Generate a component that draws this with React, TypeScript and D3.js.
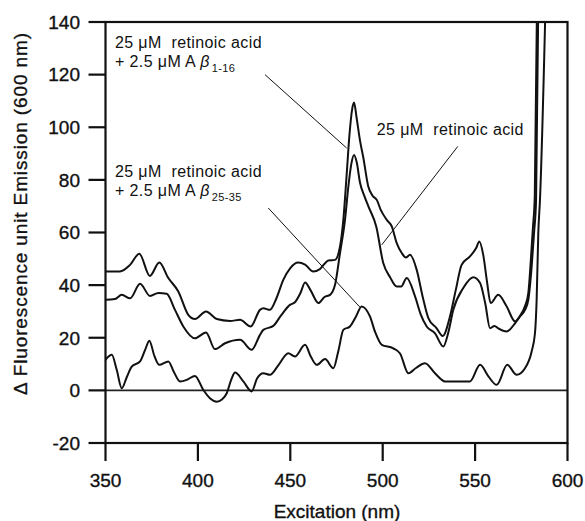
import React from 'react'
import * as d3 from 'd3'

// excitation (nm) vs delta fluorescence
const xTicks = [350, 400, 450, 500, 550, 600]
const yTicks = [-20, 0, 20, 40, 60, 80, 100, 120, 140]

const withAb116: [number, number][] = [
  [350, 45.2], [357.8, 45.2], [363.3, 47.7], [368.3, 51.9], [374, 43.5], [379.1, 48.6], [384, 42.7],
  [389.4, 37.6], [394.8, 28.7], [398.4, 27.1], [404.4, 30], [410.2, 27.1], [417.4, 26.4], [422.8, 26.8],
  [428.6, 24.3], [433.6, 30.6], [435.4, 31.2], [439, 30.6], [442.5, 35], [446.2, 42], [450, 46.5],
  [454.3, 48.6], [458, 47.8], [462.4, 45.2], [466, 46.1], [470.6, 49.4], [474.2, 49.6], [476.9, 54.7],
  [478.7, 64.8], [480.5, 82], [482, 97], [483.5, 107], [484.5, 109.4], [485.8, 104], [487.7, 95],
  [489.5, 88.5], [492.2, 77.5], [494.5, 74], [496.8, 72.4], [499, 68.5], [502.2, 64.8], [504.9, 62.3],
  [507.6, 56], [510.3, 52.2], [512.5, 50.5], [514.8, 51.5], [518.4, 45.8], [521.5, 36], [524.7, 27.5],
  [529.2, 23.6], [532.5, 20.7], [536.4, 28.1], [539.5, 38], [542.7, 47.7], [547.2, 50.9], [550.5, 54],
  [552.3, 56.6], [554.4, 51.5], [556.5, 41], [558.4, 33.2], [562.5, 36.3], [567.1, 31.9], [571.6, 26.2],
  [574.3, 28.1], [577, 30.6], [578.8, 34.4], [580.6, 47], [581.9, 59.8], [583, 72.4], [584.5, 165]
]

const retinoicOnly: [number, number][] = [
  [350, 34.4], [355.1, 34.7], [358.8, 36.3], [363.3, 35], [368.7, 40.5], [374.1, 35.9], [378.6, 37],
  [383.1, 36.7], [387.6, 30.6], [392.1, 24.3], [398.4, 19.8], [404.4, 22], [409.2, 15.7], [414.7, 17.9],
  [422.8, 19.2], [429.1, 15.4], [433.6, 21.1], [435.4, 23], [440.8, 24.5], [445, 28.5], [449.8, 32.5],
  [452.5, 33.5], [455.5, 37], [458, 41], [461, 38], [465.2, 33.2], [468.5, 35.5], [471.5, 36.3],
  [474.2, 40.1], [476.9, 52.2], [479.6, 64.8], [481.5, 78], [483, 86], [484.5, 89.5], [486, 86.5],
  [487.7, 79], [490, 74], [492.2, 70], [496.5, 62.3], [500.3, 48.4], [504, 43], [507.6, 39.5],
  [510, 39.5], [513, 42.7], [517.5, 35.7], [520.5, 29], [523.8, 24.3], [528.3, 21.7], [532.8, 16.7],
  [535.5, 22], [538.2, 30.6], [543.6, 38.9], [549, 43], [552.7, 40.8], [555.5, 33], [558.1, 23.6],
  [560.5, 24.5], [562.5, 23.6], [567.1, 22.4], [571.6, 25.5], [574.3, 28.3], [577, 32], [578.8, 37],
  [580.2, 50], [581.3, 62], [582.3, 74], [583.8, 165]
]

const withAb2535: [number, number][] = [
  [350, 11.6], [353.4, 13.5], [356, 8], [358.8, 0.8], [361.5, 5], [364.2, 9], [368.7, 11], [371.5, 15.5],
  [373.7, 18.9], [376.5, 13], [379.1, 9.7], [384, 11], [387, 7], [390.3, 3.4], [394, 4], [398.4, 5.5],
  [402.9, 0.2], [406.5, -3], [410.2, -4.3], [413, -3.5], [415.6, -1.1], [418, 4], [420.1, 6.8],
  [424.6, 3.4], [429.1, -0.4], [432, 4.5], [435.4, 6.5], [439, 5.9], [443.5, 9.5], [448.9, 14.1],
  [452.5, 12.9], [458, 17.3], [461, 13], [464.3, 9.7], [468.8, 11.9], [473.3, 8.4], [476, 15],
  [478.7, 23], [482.3, 24.3], [485.5, 28], [488.6, 31.9], [493.1, 28.1], [496, 22], [499.5, 17.3],
  [505.7, 16], [509.4, 14], [513.9, 6.5], [518, 8.5], [522.9, 10.3], [528.3, 6.5], [533.7, 3.4],
  [540.9, 3.4], [547.2, 3.4], [552.7, 9.7], [557.2, 5.3], [561.7, 2.1], [567.4, 9.7], [572.5, 5.9],
  [577, 8.4], [580.6, 14.8], [582.4, 21.7], [583.3, 34.4], [584.2, 59.8], [585.1, 72.4], [588.5, 158]
]

const seriesList = [withAb116, retinoicOnly, withAb2535]

// leader lines, in data units: [x1, y1, x2, y2]
const leaders = [
  [436.3, 120, 480.5, 92.1],
  [540.6, 92.7, 499.5, 55.3],
  [438.1, 69.3, 487.7, 31.6]
]

const font = '"Liberation Sans", Arial, sans-serif'

export default function App () {
  const width = 585
  const height = 521
  const left = 105.5
  const right = 567.5
  const top = 22
  const bottom = 443

  const x = d3.scaleLinear().domain([350, 600]).range([left, right])
  const y = d3.scaleLinear().domain([-20, 140]).range([bottom, top])
  const line = d3.line<[number, number]>()
    .x(d => x(d[0]))
    .y(d => y(d[1]))
    .curve(d3.curveMonotoneX)

  const label = (lx: number, ly: number, sub: string | null) => (
    <g fontFamily={font} fontSize={16} fill='#111' letterSpacing={0.4}>
      <text x={x(lx)} y={y(ly)}>{'25 μM\u00a0 retinoic acid'}</text>
      {sub !== null && (
        <text x={x(lx)} y={y(ly) + 19}>
          {'+ 2.5 μM A '}<tspan fontStyle='italic'>β</tspan>
          <tspan fontSize={11} dy={5} dx={2}>{sub}</tspan>
        </text>
      )}
    </g>
  )

  return (
    <svg width={width} height={height} style={{ position: 'absolute', left: 0, top: 0, background: '#fff' }}>
      <defs>
        <clipPath id='plot'>
          <rect x={left} y={top} width={right - left} height={bottom - top} />
        </clipPath>
      </defs>

      <line x1={left} x2={right} y1={y(0)} y2={y(0)} stroke='#222' strokeWidth={1.6} />

      <g clipPath='url(#plot)' fill='none' stroke='#111' strokeWidth={2} strokeLinejoin='round'>
        {seriesList.map((s, i) => <path key={i} d={line(s) || ''} />)}
      </g>

      <g stroke='#111' strokeWidth={1}>
        {leaders.map((l, i) => (
          <line key={i} x1={x(l[0])} y1={y(l[1])} x2={x(l[2])} y2={y(l[3])} />
        ))}
      </g>

      <rect x={left} y={top} width={right - left} height={bottom - top} fill='none' stroke='#111' strokeWidth={2.2} />

      <g stroke='#111' strokeWidth={2.2}>
        {yTicks.map(t => <line key={t} x1={left - 17} x2={left} y1={y(t)} y2={y(t)} />)}
        {xTicks.map(t => <line key={t} x1={x(t)} x2={x(t)} y1={bottom} y2={bottom + 18} />)}
      </g>

      <g fontFamily={font} fontSize={19} fill='#111' stroke='#111' strokeWidth={0.35}>
        {yTicks.map(t => (
          <text key={t} x={80} y={y(t)} dy='0.36em' textAnchor='end'>{t}</text>
        ))}
        {xTicks.map(t => (
          <text key={t} x={x(t)} y={bottom + 44} textAnchor='middle'>{t}</text>
        ))}
        <text x={337} y={518} textAnchor='middle'>Excitation (nm)</text>
        <text transform='translate(27,214) rotate(-90)' textAnchor='middle' textLength={362} lengthAdjust='spacing'>
          Δ Fluorescence unit Emission (600 nm)
        </text>
      </g>

      {label(355.1, 130.2, '1-16')}
      {label(496.8, 97.1, null)}
      {label(355.1, 81.2, '25-35')}
    </svg>
  )
}
